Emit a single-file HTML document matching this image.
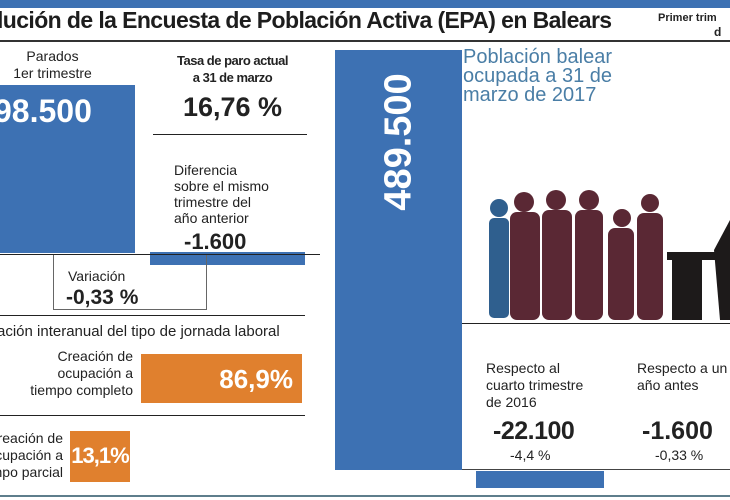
<!DOCTYPE html>
<html><head><meta charset="utf-8"><style>
body{margin:0;width:730px;height:500px;overflow:hidden;background:#fff;font-family:"Liberation Sans",sans-serif;color:#222;position:relative}
div{position:absolute}
.b{font-weight:bold}
</style></head><body>
<div style="left:0;top:0;width:730px;height:8px;background:#3d71b3"></div>
<div class="b" style="left:-3px;top:7px;font-size:23px;white-space:nowrap;letter-spacing:-0.6px;color:#1d1d1d">lución de la Encuesta de Población Activa (EPA) en Balears</div>
<div class="b" style="left:658px;top:12px;font-size:11px;white-space:nowrap">Primer trim</div>
<div class="b" style="left:714px;top:25px;font-size:12px">d</div>
<div style="left:0;top:40px;width:730px;height:2px;background:#333"></div>

<div style="left:0;top:48px;width:105px;text-align:center;font-size:14px;line-height:17px">Parados<br>1er trimestre</div>
<div style="left:0;top:85px;width:135px;height:168px;background:#3d71b3"></div>
<div class="b" style="left:-6px;top:93px;font-size:32px;color:#fff">98.500</div>

<div class="b" style="left:150px;top:52px;width:165px;text-align:center;font-size:13px;line-height:17px;letter-spacing:-0.5px">Tasa de paro actual<br>a 31 de marzo</div>
<div class="b" style="left:150px;top:92px;width:165px;text-align:center;font-size:27px">16,76 %</div>
<div style="left:153px;top:134px;width:154px;height:1px;background:#222"></div>
<div style="left:174px;top:162px;font-size:14px;line-height:16px">Diferencia<br>sobre el mismo<br>trimestre del<br>año anterior</div>
<div class="b" style="left:184px;top:229px;font-size:22px">-1.600</div>
<div style="left:150px;top:252px;width:155px;height:13px;background:#3d71b3"></div>
<div style="left:0;top:254px;width:320px;height:1px;background:#222"></div>
<div style="left:53px;top:255px;width:154px;height:55px;border:1px solid #666;border-top:none;box-sizing:border-box"></div>
<div style="left:68px;top:268px;font-size:14px">Variación</div>
<div class="b" style="left:66px;top:286px;font-size:21px">-0,33 %</div>
<div style="left:0;top:315px;width:305px;height:1px;background:#222"></div>
<div style="left:-3px;top:323px;font-size:15px;white-space:nowrap">ación interanual del tipo de jornada laboral</div>
<div style="left:0;top:348px;width:133px;text-align:right;font-size:14px;line-height:17px">Creación de<br>ocupación a<br>tiempo completo</div>
<div style="left:141px;top:354px;width:161px;height:49px;background:#e0802e"></div>
<div class="b" style="left:141px;top:364px;width:152px;text-align:right;font-size:26px;color:#fff">86,9%</div>
<div style="left:0;top:415px;width:305px;height:1px;background:#222"></div>
<div style="left:-40px;top:430px;width:103px;text-align:right;font-size:14px;line-height:17px;white-space:nowrap">Creación de<br>ocupación a<br>tiempo parcial</div>
<div style="left:70px;top:431px;width:60px;height:51px;background:#e0802e"></div>
<div class="b" style="left:70px;top:443px;width:60px;text-align:center;font-size:22px;color:#fff;letter-spacing:-1px">13,1%</div>

<div style="left:335px;top:50px;width:127px;height:420px;background:#3d71b3"></div>
<div class="b" style="left:399px;top:142px;transform:translate(-50%,-50%) rotate(-90deg);font-size:38px;color:#fff;white-space:nowrap">489.500</div>
<div style="left:463px;top:48px;font-size:20px;line-height:19px;color:#4a7ea6">Población balear<br>ocupada a 31 de<br>marzo de 2017</div>
<svg style="position:absolute;left:462px;top:180px" width="268" height="145">
<g fill="#2f5f8e"><circle cx="37" cy="28" r="9"/><rect x="27" y="38" width="20" height="100" rx="5"/></g>
<g fill="#5a2834">
<circle cx="62" cy="22" r="10"/><rect x="48" y="32" width="30" height="108" rx="7"/>
<circle cx="94" cy="20" r="10"/><rect x="80" y="30" width="30" height="110" rx="7"/>
<circle cx="127" cy="20" r="10"/><rect x="113" y="30" width="28" height="110" rx="7"/>
<circle cx="160" cy="38" r="9"/><rect x="146" y="48" width="26" height="92" rx="7"/>
<circle cx="188" cy="23" r="9"/><rect x="175" y="33" width="26" height="107" rx="7"/>
</g>
<g fill="#1d1a1a"><rect x="205" y="72" width="63" height="8"/><rect x="210" y="80" width="30" height="60"/><path d="M252 70 L268 40 L268 140 L258 140Z"/></g>
</svg>
<div style="left:462px;top:323px;width:268px;height:1px;background:#222"></div>
<div style="left:486px;top:360px;font-size:14px;line-height:17px">Respecto al<br>cuarto trimestre<br>de 2016</div>
<div class="b" style="left:493px;top:417px;font-size:25px;letter-spacing:-0.5px">-22.100</div>
<div style="left:510px;top:447px;font-size:14px">-4,4 %</div>
<div style="left:637px;top:360px;font-size:14px;line-height:17px;white-space:nowrap">Respecto a un<br>año antes</div>
<div class="b" style="left:642px;top:417px;font-size:25px">-1.600</div>
<div style="left:655px;top:447px;font-size:14px">-0,33 %</div>
<div style="left:462px;top:469px;width:268px;height:1px;background:#444"></div>
<div style="left:476px;top:471px;width:128px;height:17px;background:#3d71b3"></div>
<div style="left:0;top:495px;width:730px;height:2px;background:#5e7e8c"></div>
</body></html>
